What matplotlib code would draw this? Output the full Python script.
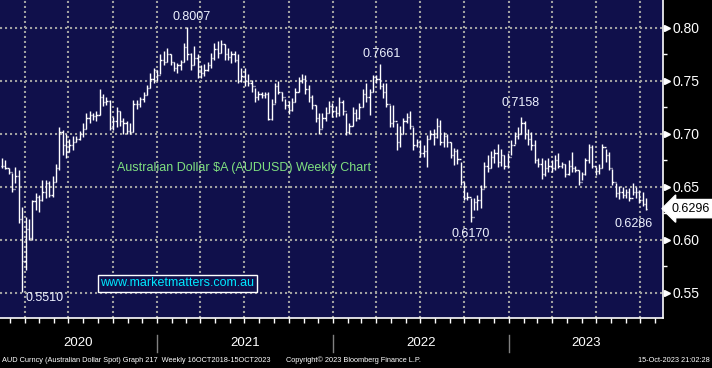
import numpy as np
import pandas as pd
import matplotlib
matplotlib.use('Agg')
import matplotlib.pyplot as plt
import matplotlib.dates as mdates
from matplotlib.transforms import blended_transform_factory
from datetime import datetime

# weekly AUDUSD bars (week ending Friday)
first_week = '2020-02-14'
highs = [
    0.677, 0.675, 0.668, 0.663, 0.669, 0.666, 0.631, 0.622, 0.620, 0.638,
    0.644, 0.642, 0.657, 0.657, 0.656, 0.660, 0.672, 0.707, 0.704, 0.700,
    0.695, 0.698, 0.698, 0.703, 0.710, 0.720, 0.722, 0.720, 0.722, 0.742,
    0.738, 0.735, 0.732, 0.716, 0.725, 0.722, 0.715, 0.712, 0.710, 0.732,
    0.732, 0.735, 0.740, 0.746, 0.758, 0.762, 0.760, 0.775, 0.778, 0.781,
    0.775, 0.768, 0.767, 0.770, 0.786, 0.8007, 0.776, 0.783, 0.775, 0.765,
    0.766, 0.768, 0.776, 0.786, 0.788, 0.789, 0.785, 0.781, 0.778, 0.778,
    0.775, 0.762, 0.762, 0.757, 0.751, 0.743, 0.741, 0.740, 0.740, 0.740,
    0.733, 0.748, 0.750, 0.740, 0.733, 0.731, 0.734, 0.743, 0.754, 0.757,
    0.756, 0.746, 0.737, 0.727, 0.720, 0.720, 0.725, 0.731, 0.729, 0.726,
    0.735, 0.732, 0.720, 0.710, 0.725, 0.724, 0.729, 0.742, 0.748, 0.742,
    0.756, 0.756, 0.7661, 0.748, 0.748, 0.727, 0.727, 0.710, 0.708, 0.715,
    0.720, 0.722, 0.707, 0.695, 0.694, 0.690, 0.699, 0.704, 0.705, 0.715,
    0.713, 0.702, 0.700, 0.692, 0.687, 0.686, 0.674, 0.655, 0.645, 0.640,
    0.640, 0.642, 0.652, 0.674, 0.680, 0.684, 0.686, 0.691, 0.686, 0.680,
    0.682, 0.694, 0.702, 0.707, 0.7158, 0.712, 0.705, 0.702, 0.694, 0.677,
    0.677, 0.675, 0.677, 0.675, 0.680, 0.682, 0.674, 0.672, 0.675, 0.683,
    0.670, 0.666, 0.664, 0.677, 0.691, 0.690, 0.669, 0.672, 0.691, 0.686,
    0.683, 0.667, 0.654, 0.651, 0.650, 0.648, 0.649, 0.654, 0.650, 0.647,
    0.645, 0.640,
]
lows = [
    0.668, 0.667, 0.662, 0.645, 0.654, 0.616, 0.5510, 0.572, 0.600, 0.600,
    0.628, 0.626, 0.637, 0.640, 0.641, 0.641, 0.655, 0.666, 0.680, 0.677,
    0.683, 0.685, 0.692, 0.694, 0.697, 0.705, 0.710, 0.713, 0.712, 0.718,
    0.726, 0.727, 0.704, 0.704, 0.707, 0.708, 0.700, 0.700, 0.700, 0.702,
    0.724, 0.725, 0.730, 0.737, 0.743, 0.748, 0.750, 0.757, 0.765, 0.768,
    0.765, 0.759, 0.758, 0.760, 0.768, 0.770, 0.760, 0.765, 0.753, 0.753,
    0.755, 0.759, 0.762, 0.770, 0.772, 0.776, 0.770, 0.770, 0.767, 0.768,
    0.748, 0.749, 0.745, 0.745, 0.740, 0.730, 0.732, 0.734, 0.734, 0.713,
    0.713, 0.729, 0.738, 0.731, 0.724, 0.719, 0.722, 0.730, 0.740, 0.748,
    0.738, 0.730, 0.724, 0.711, 0.700, 0.706, 0.712, 0.720, 0.716, 0.716,
    0.717, 0.718, 0.699, 0.700, 0.708, 0.712, 0.714, 0.725, 0.730, 0.718,
    0.740, 0.748, 0.742, 0.734, 0.725, 0.707, 0.707, 0.685, 0.688, 0.700,
    0.710, 0.705, 0.685, 0.688, 0.678, 0.678, 0.669, 0.695, 0.690, 0.696,
    0.690, 0.688, 0.688, 0.677, 0.671, 0.672, 0.652, 0.638, 0.638, 0.6170,
    0.628, 0.628, 0.630, 0.649, 0.664, 0.668, 0.673, 0.669, 0.670, 0.667,
    0.668, 0.680, 0.691, 0.695, 0.700, 0.695, 0.690, 0.685, 0.673, 0.669,
    0.658, 0.660, 0.664, 0.664, 0.666, 0.668, 0.668, 0.659, 0.661, 0.664,
    0.664, 0.652, 0.657, 0.661, 0.673, 0.668, 0.661, 0.662, 0.668, 0.674,
    0.666, 0.652, 0.641, 0.639, 0.640, 0.640, 0.637, 0.642, 0.640, 0.635,
    0.632, 0.6286,
]
closes = [
    0.670, 0.668, 0.664, 0.648, 0.660, 0.620, 0.580, 0.610, 0.602, 0.637,
    0.641, 0.638, 0.645, 0.654, 0.642, 0.655, 0.668, 0.702, 0.690, 0.683,
    0.690, 0.692, 0.695, 0.700, 0.705, 0.715, 0.718, 0.717, 0.718, 0.735,
    0.730, 0.731, 0.706, 0.712, 0.722, 0.712, 0.710, 0.703, 0.702, 0.728,
    0.728, 0.733, 0.737, 0.743, 0.752, 0.760, 0.756, 0.770, 0.768, 0.775,
    0.768, 0.762, 0.765, 0.768, 0.782, 0.775, 0.765, 0.772, 0.760, 0.758,
    0.760, 0.765, 0.772, 0.780, 0.776, 0.785, 0.775, 0.773, 0.775, 0.770,
    0.750, 0.755, 0.750, 0.748, 0.745, 0.735, 0.738, 0.737, 0.738, 0.714,
    0.728, 0.745, 0.740, 0.735, 0.727, 0.723, 0.730, 0.740, 0.750, 0.752,
    0.742, 0.735, 0.727, 0.715, 0.705, 0.715, 0.720, 0.726, 0.722, 0.720,
    0.730, 0.722, 0.702, 0.708, 0.720, 0.715, 0.725, 0.738, 0.735, 0.740,
    0.754, 0.752, 0.745, 0.740, 0.728, 0.710, 0.712, 0.692, 0.700, 0.712,
    0.716, 0.708, 0.690, 0.692, 0.682, 0.684, 0.695, 0.700, 0.697, 0.708,
    0.692, 0.698, 0.692, 0.680, 0.684, 0.676, 0.655, 0.640, 0.641, 0.622,
    0.636, 0.638, 0.648, 0.670, 0.668, 0.678, 0.682, 0.674, 0.680, 0.670,
    0.678, 0.690, 0.698, 0.700, 0.710, 0.700, 0.695, 0.690, 0.675, 0.672,
    0.662, 0.668, 0.670, 0.668, 0.675, 0.670, 0.672, 0.662, 0.670, 0.668,
    0.666, 0.655, 0.662, 0.675, 0.688, 0.670, 0.665, 0.668, 0.688, 0.680,
    0.668, 0.655, 0.644, 0.645, 0.642, 0.645, 0.640, 0.645, 0.645, 0.638,
    0.634, 0.6296,
]
peak_values = [0.8007, 0.7661, 0.7158]
trough_values = [0.5510, 0.6170, 0.6286]
ytick_vals = [0.55, 0.60, 0.65, 0.70, 0.75, 0.80]
ytick_minor = [0.575, 0.625, 0.675, 0.725, 0.775]
years = [2020, 2021, 2022, 2023]
last_price = closes[-1]

title_text = 'Australian Dollar $A (AUDUSD) Weekly Chart'
site_text = 'www.marketmatters.com.au'
footer_left = 'AUD Curncy (Australian Dollar Spot) Graph 217  Weekly 16OCT2018-15OCT2023'
footer_mid = 'Copyright\u00a9 2023 Bloomberg Finance L.P.'
footer_right = '15-Oct-2023 21:02:28'

NAVY = '#10104b'
SANS = ['Liberation Sans', 'DejaVu Sans']

dates = pd.date_range(first_week, periods=len(closes), freq='W-FRI')
x = mdates.date2num(dates)
highs = np.array(highs)
lows = np.array(lows)
closes = np.array(closes)
opens = np.r_[closes[0], closes[:-1]]

W, H = 712, 368
fig = plt.figure(figsize=(W / 100, H / 100), dpi=100, facecolor='black')
ax = fig.add_axes([0, 1 - 318 / H, 663 / W, 318 / H])
ax.set_facecolor(NAVY)

# OHLC bars
ax.vlines(x, lows, highs, color='white', lw=1.0)
ax.hlines(opens, x - 2.6, x, color='white', lw=1.0)
ax.hlines(closes, x, x + 2.6, color='white', lw=1.0)

ax.set_xlim(x[0] - 4, x[-1] + 35)
ax.set_ylim(0.5264, 0.8264)

ax.xaxis.set_major_locator(mdates.MonthLocator(bymonth=[1, 4, 7, 10]))
ax.xaxis.set_minor_locator(mdates.MonthLocator())
ax.set_yticks(ytick_vals)
ax.set_yticks(ytick_minor, minor=True)
ax.yaxis.tick_right()
ax.set_yticklabels([f'{v:.2f}' for v in ytick_vals])
ax.grid(True, which='major', color='#a0a0a0', linestyle=(0, (1, 1.4)), lw=1.5)

ax.tick_params(axis='x', which='both', direction='out', length=3.5, width=1,
               color='white', labelbottom=False)
ax.tick_params(axis='y', which='major', length=0, pad=6.5, labelsize=10,
               labelcolor='white')
ax.tick_params(axis='y', which='minor', length=3, width=1, color='white')
for lab in ax.get_yticklabels():
    lab.set_family(SANS)

for s in ['left', 'top']:
    ax.spines[s].set_visible(False)
for s in ['right', 'bottom']:
    ax.spines[s].set_color('white')
    ax.spines[s].set_linewidth(1.2)

# arrow markers on the price scale
ytr = blended_transform_factory(ax.transAxes, ax.transData)
ax.plot([1 + 3.5 / 663] * len(ytick_vals), ytick_vals, '>', color='white',
        ms=5, transform=ytr, clip_on=False)

# last price flag
ax.text(1 + 9 / 663, last_price, f'{last_price:.4f}', transform=ytr,
        ha='left', va='center', fontsize=9, color='black', family=SANS,
        bbox=dict(boxstyle='larrow,pad=0.25', fc='white', ec='white'))

# high / low labels
for v, dx, dy in zip(peak_values, [4, 2, -1], [-10, -10, -14]):
    i = int(np.argmin(np.abs(highs - v)))
    ax.annotate(f'{v:.4f}', (x[i], v), xytext=(dx, -dy),
                textcoords='offset pixels', ha='center', va='center',
                fontsize=9, color='#eef2ff', family=SANS)
for v, dx, dy in zip(trough_values, [22, 0, -13], [6, 12, 14]):
    i = int(np.argmin(np.abs(lows - v)))
    ax.annotate(f'{v:.4f}', (x[i], v), xytext=(dx, -dy),
                textcoords='offset pixels', ha='center', va='center',
                fontsize=9, color='#eef2ff', family=SANS)

ax.text(244 / 663, 150 / 318, title_text, transform=ax.transAxes,
        ha='center', va='center', fontsize=9, color='#80e080', family=SANS)
ax.text(177 / 663, 34.5 / 318, site_text, transform=ax.transAxes,
        ha='center', va='center', fontsize=9, color='#00e8ff', family=SANS,
        bbox=dict(boxstyle='square,pad=0.2', fc=NAVY, ec='white', lw=1))

# year labels and separators under the axis
xtr = blended_transform_factory(ax.transData, ax.transAxes)
x0, x1 = ax.get_xlim()
for yr in years:
    s = mdates.date2num(datetime(yr, 1, 1))
    e = mdates.date2num(datetime(yr + 1, 1, 1))
    mid = (max(s, x0) + min(e, x1)) / 2
    ax.text(mid, -25 / 318, str(yr), transform=xtr, ha='center', va='center',
            fontsize=9.5, color='white', family=SANS)
    if yr > years[0]:
        ax.plot([s, s], [-17 / 318, -34 / 318], color='#808080', lw=1,
                transform=xtr, clip_on=False)

fy = 1 - 360 / H
foot = dict(va='center', fontsize=5.3, color='white', family=SANS)
fig.text(2 / W, fy, footer_left, ha='left', **foot)
fig.text(286 / W, fy, footer_mid, ha='left', **foot)
fig.text(710 / W, fy, footer_right, ha='right', **foot)

fig.savefig('out.png', dpi=100, facecolor='black')
